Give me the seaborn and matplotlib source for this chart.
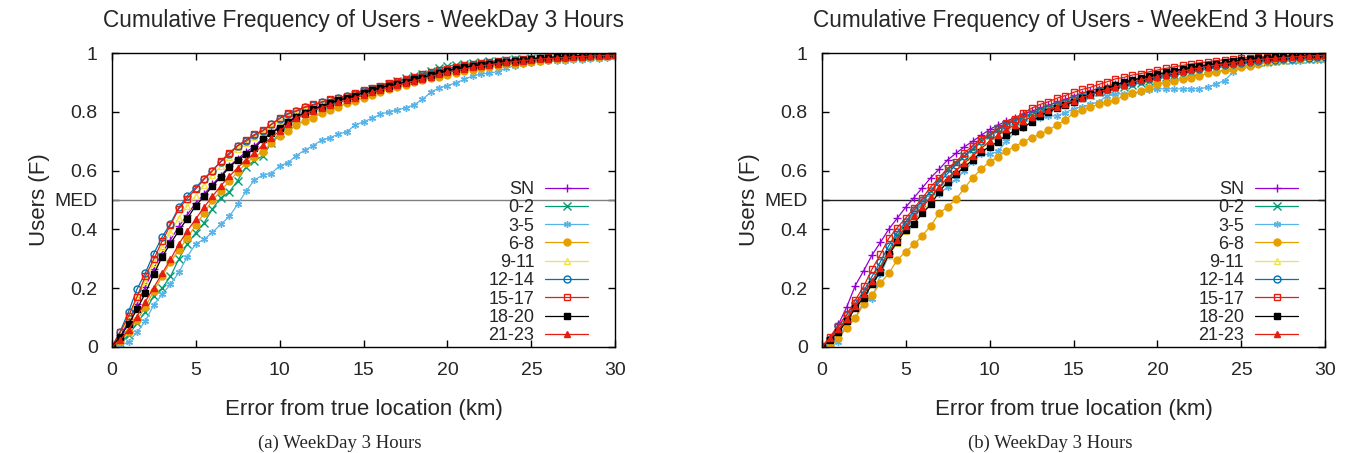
import numpy as np
import pandas as pd
import matplotlib
matplotlib.use("Agg")
import matplotlib.pyplot as plt
import seaborn as sns

# CDF of location error, 3-hour slots, weekday vs weekend

distance_km = np.arange(0, 30.5, 0.5)   # sample grid every 0.5 km

series_names = ['SN', '0-2', '3-5', '6-8', '9-11', '12-14', '15-17', '18-20', '21-23']

# weekday curves
wd_sn = [0, .04, .085, .145, .205, .265, .32, .365, .41, .45,
         .49, .52, .553, .583, .615, .64, .663, .683, .71, .73,
         .75, .768, .785, .798, .81, .82, .83, .84, .848, .856,
         .865, .873, .881, .888, .895, .902, .91, .917, .925, .932,
         .938, .944, .95, .955, .959, .963, .967, .97, .973, .976,
         .978, .98, .982, .984, .986, .987, .989, .99, .991, .992, .993]
wd_0_2 = [0, .015, .04, .08, .12, .175, .2, .24, .3, .35,
          .388, .422, .47, .508, .527, .566, .613, .634, .65, .693,
          .727, .757, .78, .795, .806, .816, .826, .836, .846, .856,
          .866, .876, .886, .896, .905, .914, .922, .93, .94, .948,
          .955, .96, .964, .967, .97, .972, .974, .976, .978, .98,
          .982, .983, .985, .986, .988, .989, .99, .991, .992, .993, .994]
wd_3_5 = [0, .003, .018, .05, .088, .143, .179, .213, .254, .307,
          .351, .366, .39, .417, .444, .485, .53, .568, .585, .59,
          .616, .627, .651, .67, .685, .704, .712, .724, .732, .755,
          .766, .778, .791, .80, .806, .814, .823, .842, .866, .882,
          .889, .899, .91, .922, .929, .931, .937, .949, .956, .963,
          .966, .969, .972, .972, .974, .976, .977, .979, .981, .983, .985]
wd_6_8 = [0, .02, .05, .092, .136, .19, .24, .29, .33, .37,
          .415, .455, .50, .53, .565, .595, .625, .647, .664, .693,
          .719, .736, .755, .769, .78, .795, .806, .817, .829, .837,
          .848, .857, .868, .876, .883, .891, .90, .908, .914, .92,
          .926, .932, .938, .943, .948, .953, .957, .961, .964, .967,
          .97, .973, .976, .978, .98, .982, .984, .986, .988, .99, .992]
wd_9_11 = [0, .045, .10, .165, .225, .285, .34, .39, .44, .48,
           .515, .55, .585, .615, .645, .675, .695, .715, .73, .75,
           .77, .785, .797, .81, .82, .83, .838, .845, .852, .86,
           .868, .876, .884, .892, .899, .906, .913, .92, .928, .934,
           .94, .946, .951, .956, .96, .964, .968, .971, .974, .976,
           .979, .981, .983, .985, .987, .988, .989, .99, .991, .993, .994]
wd_12_14 = [0, .052, .12, .196, .252, .317, .374, .42, .475, .514,
            .542, .573, .60, .63, .655, .684, .70, .72, .735, .757,
            .777, .792, .802, .815, .823, .832, .84, .847, .853, .861,
            .871, .879, .886, .895, .902, .909, .915, .923, .93, .936,
            .942, .949, .954, .958, .962, .966, .97, .973, .975, .977,
            .98, .982, .984, .986, .987, .989, .99, .991, .992, .993, .995]
wd_15_17 = [0, .05, .105, .17, .24, .298, .36, .415, .47, .505,
            .537, .57, .60, .632, .66, .685, .704, .723, .737, .757,
            .778, .795, .804, .817, .825, .834, .842, .848, .855, .863,
            .874, .882, .889, .899, .906, .912, .919, .927, .935, .941,
            .947, .953, .958, .962, .966, .969, .972, .975, .977, .979,
            .981, .983, .985, .986, .988, .989, .99, .991, .992, .994, .995]
wd_18_20 = [0, .035, .077, .128, .183, .247, .307, .352, .396, .437,
            .481, .512, .548, .578, .611, .636, .655, .676, .706, .727,
            .746, .764, .783, .795, .81, .817, .829, .84, .846, .855,
            .865, .874, .882, .889, .893, .902, .912, .916, .925, .932,
            .94, .946, .951, .956, .96, .964, .968, .971, .974, .977,
            .98, .982, .984, .986, .988, .989, .991, .992, .993, .994, .996]
wd_21_23 = [0, .024, .058, .103, .154, .202, .25, .298, .35, .395,
            .435, .476, .512, .549, .58, .61, .636, .659, .687, .712,
            .735, .757, .778, .793, .804, .814, .823, .832, .84, .848,
            .857, .866, .874, .882, .89, .897, .905, .912, .92, .927,
            .934, .94, .946, .951, .956, .96, .964, .968, .971, .974,
            .977, .979, .981, .983, .985, .987, .988, .99, .991, .992, .993]

# weekend curves
we_sn = [0, .03, .077, .137, .209, .259, .313, .356, .401, .438,
         .475, .508, .542, .576, .605, .636, .659, .681, .70, .72,
         .74, .755, .768, .78, .792, .802, .812, .822, .832, .842,
         .852, .862, .871, .879, .886, .893, .90, .907, .913, .92,
         .926, .932, .938, .943, .948, .953, .957, .961, .965, .968,
         .971, .974, .977, .979, .981, .983, .985, .987, .988, .99, .992]
we_0_2 = [0, .02, .06, .10, .14, .18, .22, .275, .33, .38,
          .42, .455, .49, .53, .57, .605, .625, .65, .675, .70,
          .72, .74, .755, .77, .782, .795, .805, .815, .825, .833,
          .842, .85, .858, .866, .872, .878, .885, .892, .898, .905,
          .912, .918, .924, .93, .935, .94, .945, .95, .954, .958,
          .962, .965, .968, .971, .973, .975, .977, .979, .98, .981, .982]
we_3_5 = [0, .015, .018, .086, .098, .154, .163, .247, .311, .356,
          .415, .46, .489, .511, .52, .545, .57, .60, .63, .655,
          .655, .665, .70, .73, .745, .765, .78, .785, .787, .797,
          .81, .817, .825, .834, .855, .86, .862, .862, .866, .874,
          .878, .878, .878, .878, .878, .878, .884, .895, .906, .935,
          .952, .96, .965, .968, .97, .972, .973, .974, .975, .976, .977]
we_6_8 = [0, .001, .03, .066, .098, .145, .177, .217, .251, .296,
          .324, .349, .379, .413, .455, .477, .503, .54, .576, .605,
          .63, .647, .667, .681, .698, .712, .723, .738, .755, .772,
          .795, .806, .817, .825, .834, .84, .855, .863, .871, .882,
          .893, .899, .905, .91, .914, .922, .931, .937, .942, .947,
          .951, .957, .963, .968, .973, .977, .98, .981, .982, .982, .983]
we_9_11 = [0, .025, .055, .09, .135, .17, .215, .26, .31, .355,
           .395, .425, .46, .495, .535, .57, .60, .63, .655, .68,
           .70, .72, .74, .755, .77, .785, .798, .81, .82, .83,
           .84, .85, .86, .87, .878, .886, .894, .90, .907, .913,
           .92, .926, .932, .937, .942, .947, .952, .956, .96, .963,
           .966, .969, .972, .975, .977, .979, .981, .983, .984, .985, .986]
we_12_14 = [0, .028, .07, .11, .148, .19, .24, .29, .345, .39,
            .425, .465, .50, .53, .56, .59, .62, .65, .675, .70,
            .72, .74, .756, .77, .78, .79, .80, .81, .82, .83,
            .84, .85, .86, .87, .878, .885, .892, .898, .905, .912,
            .918, .924, .93, .936, .942, .947, .952, .956, .96, .963,
            .966, .969, .972, .975, .977, .979, .981, .983, .984, .985, .986]
we_15_17 = [0, .035, .073, .111, .159, .206, .265, .315, .37, .406,
            .438, .472, .506, .545, .576, .608, .63, .659, .685, .707,
            .723, .744, .761, .776, .795, .812, .825, .834, .846, .855,
            .866, .876, .883, .893, .902, .912, .917, .925, .93, .936,
            .942, .948, .953, .958, .962, .966, .97, .974, .977, .98,
            .982, .984, .986, .988, .989, .99, .991, .992, .993, .994, .995]
we_18_20 = [0, .024, .052, .088, .132, .168, .213, .256, .315, .358,
            .398, .42, .455, .485, .528, .562, .587, .613, .636, .664,
            .681, .698, .721, .735, .749, .764, .787, .80, .812, .823,
            .834, .848, .859, .868, .878, .891, .90, .908, .915, .922,
            .928, .934, .94, .946, .951, .956, .96, .964, .968, .972,
            .976, .979, .982, .984, .986, .988, .99, .991, .992, .994, .995]
we_21_23 = [0, .03, .06, .095, .14, .18, .225, .27, .32, .365,
            .41, .445, .475, .51, .545, .575, .60, .625, .65, .675,
            .70, .72, .74, .755, .77, .782, .795, .806, .817, .828,
            .838, .848, .858, .867, .876, .884, .892, .90, .907, .914,
            .92, .926, .932, .938, .944, .949, .954, .959, .963, .967,
            .971, .974, .977, .98, .982, .984, .986, .988, .99, .991, .993]

weekday = [wd_sn, wd_0_2, wd_3_5, wd_6_8, wd_9_11, wd_12_14, wd_15_17, wd_18_20, wd_21_23]
weekend = [we_sn, we_0_2, we_3_5, we_6_8, we_9_11, we_12_14, we_15_17, we_18_20, we_21_23]

# gnuplot-like styles: (color, marker, filled)
styles = [('#9400D3', '+', True),
          ('#009E73', 'x', True),
          ('#56B4E9', (6, 2, 0), True),
          ('#E69F00', 'o', True),
          ('#F0E442', '^', False),
          ('#0072B2', 'o', False),
          ('#E51E10', 's', False),
          ('#000000', 's', True),
          ('#E51E10', '^', True)]

sns.set_style("ticks")
plt.rcParams['font.family'] = ['Liberation Sans', 'DejaVu Sans']

fig = plt.figure(figsize=(13.51, 4.53), dpi=100)
ax1 = fig.add_axes([0.0827, 0.234, 0.3728, 0.649])
ax2 = fig.add_axes([0.6082, 0.234, 0.3728, 0.649])


def draw_panel(ax, curves, title, med_color):
    ax.axhline(0.5, color=med_color, lw=1.0, zorder=1)
    for name, vals, (col, mk, filled) in zip(series_names, curves, styles):
        df = pd.DataFrame({'km': distance_km, 'F': vals})
        sns.lineplot(data=df, x='km', y='F', ax=ax, color=col, lw=0.9,
                     marker=mk, markersize=5 if mk not in ('+', 'x') else 6,
                     markerfacecolor=col if filled else 'none',
                     markeredgecolor=col, markeredgewidth=1.0,
                     label=name, zorder=2)
    ax.set_xlim(0, 30)
    ax.set_ylim(0, 1)
    ax.set_xticks([0, 5, 10, 15, 20, 25, 30])
    ax.set_yticks([0, 0.2, 0.4, 0.5, 0.6, 0.8, 1])
    ax.set_yticklabels(['0', '0.2', '0.4', 'MED', '0.6', '0.8', '1'])
    ax.tick_params(direction='in', length=5, width=1, top=True, right=True,
                   labelsize=14, color='black')
    ax.tick_params(axis='x', pad=11)
    ax.tick_params(axis='y', pad=10)
    for s in ax.spines.values():
        s.set_visible(True)
        s.set_linewidth(1.0)
        s.set_color('black')
    ax.set_xlabel('Error from true location (km)', fontsize=16, labelpad=14)
    ax.set_ylabel('Users (F)', fontsize=16, labelpad=3)
    ax.set_title(title, fontsize=16.3, pad=19)
    leg = ax.legend(loc='lower right', bbox_to_anchor=(0.968, -0.027), frameon=False,
                    markerfirst=False, fontsize=13, handlelength=2.4,
                    labelspacing=0.07, handletextpad=0.6, borderaxespad=0.2)
    return leg


draw_panel(ax1, weekday, 'Cumulative Frequency of Users - WeekDay 3 Hours', '#808080')
draw_panel(ax2, weekend, 'Cumulative Frequency of Users - WeekEnd 3 Hours', '#202020')

fig.text(0.2517, 0.012, '(a) WeekDay 3 Hours', family='Liberation Serif', fontsize=13.5, ha='center')
fig.text(0.7772, 0.012, '(b) WeekDay 3 Hours', family='Liberation Serif', fontsize=13.5, ha='center')

plt.savefig('out.png', dpi=100)
